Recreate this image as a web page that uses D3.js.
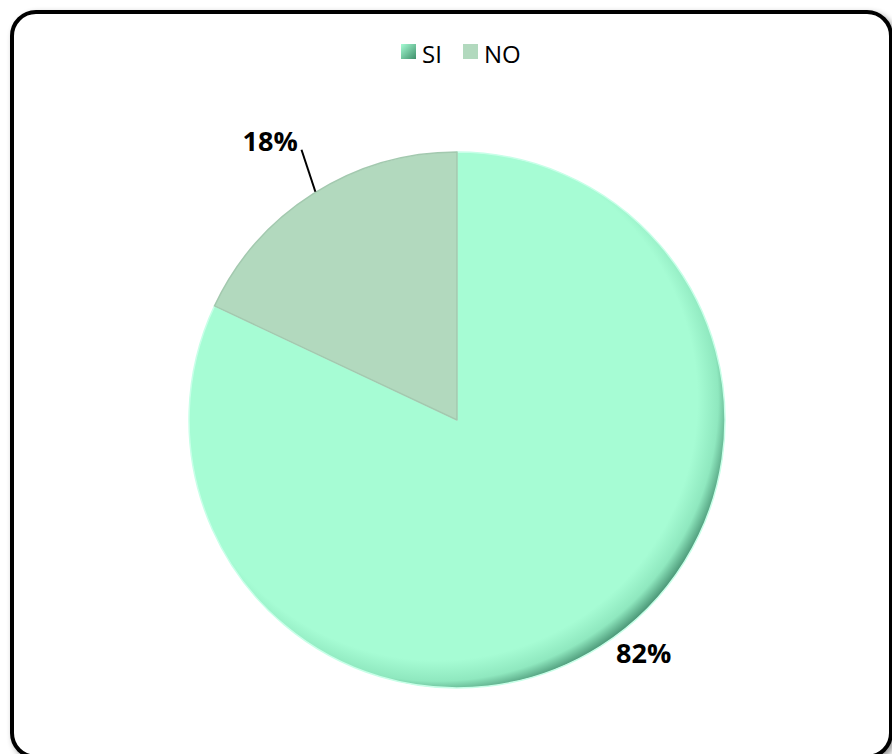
<!DOCTYPE html>
<html lang="es">
<head>
    <meta charset="UTF-8">
    <title>SI / NO</title>
    <script src="https://cdn.jsdelivr.net/npm/d3@7"></script>
    <style>
        html, body {
            margin: 0;
            background: #ffffff;
            font-family: "Open Sans", "Liberation Sans", sans-serif;
        }
    </style>
</head>
<body>
    <div id="vis"></div>
    <script>
        // data
        var categories = ["SI", "NO"];
        var values = [82, 18];
        var labels = ["82%", "18%"];
        var colors = ["#a6fcd4", "#b2d9be"];

        var width = 892, height = 754;
        var cx = 457, cy = 420, radius = 268;

        var svg = d3.select("#vis").append("svg")
            .attr("width", width)
            .attr("height", height);

        var defs = svg.append("defs");

        // soft shadow for the frame
        var shadow = defs.append("filter").attr("id", "shadow")
            .attr("x", "-5%").attr("y", "-5%").attr("width", "115%").attr("height", "115%");
        shadow.append("feGaussianBlur").attr("in", "SourceAlpha").attr("stdDeviation", 3);
        shadow.append("feOffset").attr("dx", 3).attr("dy", 3).attr("result", "off");
        shadow.append("feComponentTransfer").append("feFuncA").attr("type", "linear").attr("slope", 0.4);
        var merge = shadow.append("feMerge");
        merge.append("feMergeNode");
        merge.append("feMergeNode").attr("in", "SourceGraphic");

        // bevel-like rim for the big slice (coordinates are in the translated group)
        var grad = defs.append("radialGradient").attr("id", "gradSI")
            .attr("gradientUnits", "userSpaceOnUse")
            .attr("cx", -20).attr("cy", -20).attr("r", radius + 28);
        grad.append("stop").attr("offset", "0%").attr("stop-color", colors[0]);
        grad.append("stop").attr("offset", "88%").attr("stop-color", colors[0]);
        grad.append("stop").attr("offset", "95%").attr("stop-color", "#8fe8bf");
        grad.append("stop").attr("offset", "100%").attr("stop-color", "#4a9676");

        var legGrad = defs.append("linearGradient").attr("id", "legSI")
            .attr("x1", 0).attr("y1", 0).attr("x2", 1).attr("y2", 1);
        legGrad.append("stop").attr("offset", "0%").attr("stop-color", "#a6fcd4");
        legGrad.append("stop").attr("offset", "100%").attr("stop-color", "#3f8f6a");

        // chart frame
        svg.append("rect")
            .attr("x", 12).attr("y", 12)
            .attr("width", 879).attr("height", 745)
            .attr("rx", 24).attr("ry", 24)
            .attr("fill", "#ffffff")
            .attr("stroke", "#000000")
            .attr("stroke-width", 4)
            .attr("filter", "url(#shadow)");

        // pie
        var pie = d3.pie().sort(null).value(function(d) { return d; });
        var arcs = pie(values);
        var arc = d3.arc().innerRadius(0).outerRadius(radius);

        var g = svg.append("g").attr("transform", "translate(" + cx + "," + cy + ")");

        g.selectAll("path.slice")
            .data(arcs)
            .enter().append("path")
            .attr("class", "slice")
            .attr("d", arc)
            .attr("fill", function(d, i) { return i === 0 ? "url(#gradSI)" : colors[1]; })
            .attr("stroke", function(d, i) { return i === 0 ? "#c8ffe8" : "#a3c9af"; })
            .attr("stroke-width", 1.5)
            .attr("stroke-linejoin", "round");

        // data labels
        var labelRadius = [298, 332];
        var labelShift = [[27, -19], [-9, 1]];

        arcs.forEach(function(d, i) {
            var la = d3.arc().innerRadius(labelRadius[i]).outerRadius(labelRadius[i]);
            var c = la.centroid(d);
            g.append("text")
                .attr("x", c[0] + labelShift[i][0]).attr("y", c[1] + labelShift[i][1])
                .attr("text-anchor", "middle")
                .attr("dominant-baseline", "central")
                .attr("font-size", 27)
                .attr("font-weight", "bold")
                .attr("fill", "#000000")
                .text(labels[i]);
        });

        // leader line for the small slice
        var p1 = d3.arc().innerRadius(radius).outerRadius(radius).centroid(arcs[1]);
        var p2 = d3.arc().innerRadius(307).outerRadius(307).centroid(arcs[1]);
        g.append("line")
            .attr("x1", p1[0] + 2).attr("y1", p1[1] - 2)
            .attr("x2", p2[0] + 9).attr("y2", p2[1] - 11)
            .attr("stroke", "#000000")
            .attr("stroke-width", 2);

        // legend
        var legend = svg.append("g").attr("transform", "translate(401,44)");
        var legX = [0, 62];
        categories.forEach(function(name, i) {
            var item = legend.append("g").attr("transform", "translate(" + legX[i] + ",0)");
            item.append("rect")
                .attr("width", 15).attr("height", 15)
                .attr("fill", i === 0 ? "url(#legSI)" : colors[1]);
            item.append("text")
                .attr("x", 21).attr("y", 9)
                .attr("dominant-baseline", "central")
                .attr("font-size", 24)
                .attr("fill", "#000000")
                .text(name);
        });
    </script>
</body>
</html>
